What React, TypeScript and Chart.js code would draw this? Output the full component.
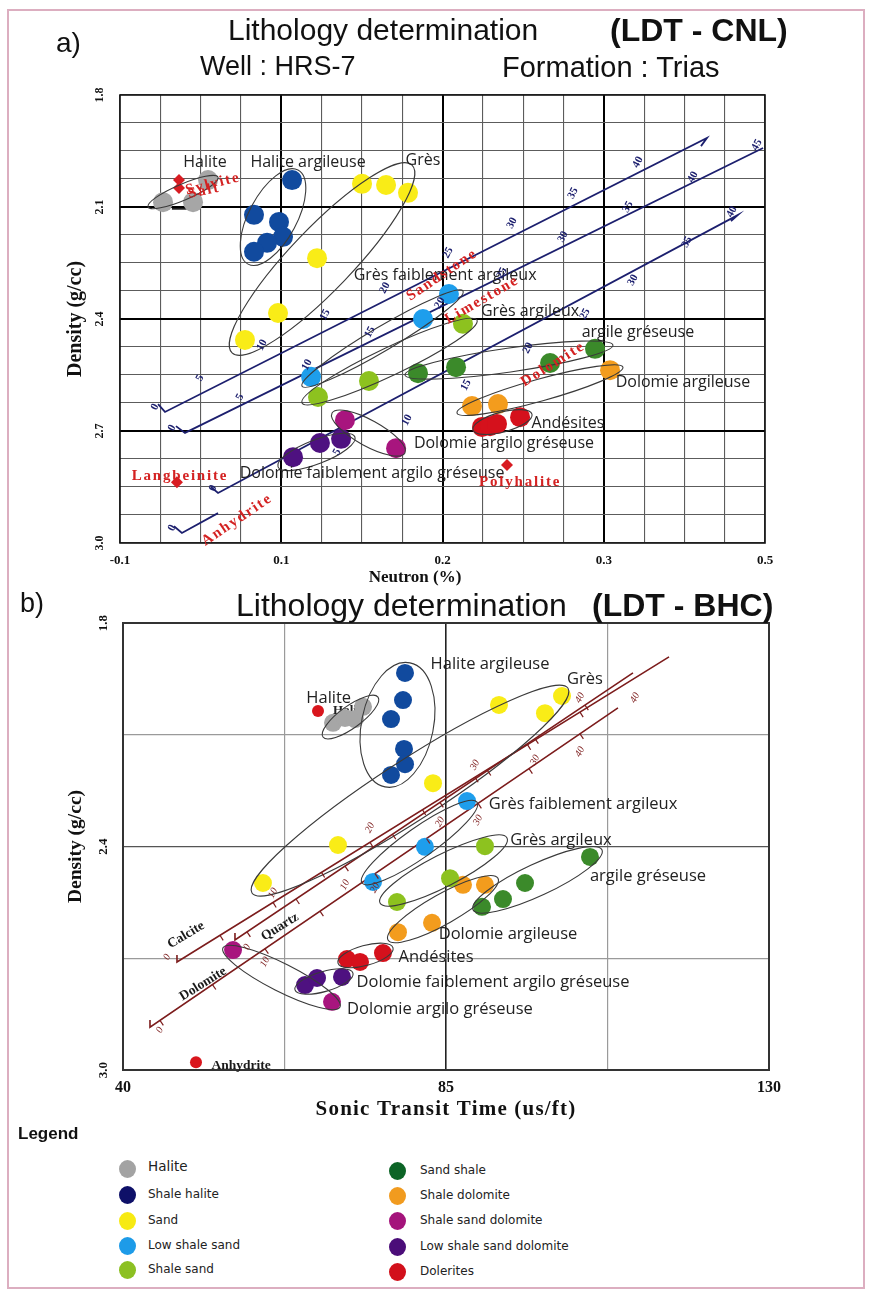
import React, { useEffect, useRef } from "react";
import { Chart, registerables } from "chart.js";
Chart.register(...registerables);

// ================= a) LDT - CNL  (x: neutron, y: density) =================
const cnlHalite = [[0.0267, 2.087], [0.0453, 2.087], [0.0546, 2.028]];
const cnlShaleHalite = [[0.1067, 2.028], [0.0831, 2.121], [0.0986, 2.140], [0.1011, 2.180], [0.0912, 2.196], [0.0831, 2.220]];
const cnlSand = [[0.1501, 2.038], [0.1650, 2.041], [0.1786, 2.062], [0.1222, 2.237], [0.0980, 2.384], [0.0775, 2.456]];
const cnlLowShaleSand = [[0.2040, 2.333], [0.1879, 2.400], [0.1185, 2.555]];
const cnlShaleSand = [[0.2127, 2.413], [0.1544, 2.566], [0.1228, 2.609]];
const cnlSandShale = [[0.1848, 2.545], [0.2084, 2.529], [0.2667, 2.518], [0.2946, 2.480]];
const cnlShaleDolomite = [[0.2183, 2.633], [0.2344, 2.628], [0.3039, 2.537]];
const cnlShaleSandDolomite = [[0.1395, 2.671], [0.1712, 2.746]];
const cnlLowShaleSandDolomite = [[0.1073, 2.770], [0.1240, 2.732], [0.1371, 2.721]];
const cnlDolerites = [[0.2245, 2.689], [0.2295, 2.687], [0.2338, 2.681], [0.2481, 2.663]];
const cnlMinerals = [[0.0366, 2.028], [0.0366, 2.049], [0.0353, 2.837], [0.2400, 2.791]];

const cnlSandstoneLine = [[0.0236, 2.628], [0.0279, 2.649], [0.3640, 1.915], [0.3603, 1.937]];
const cnlLimestoneLine = [[0.0347, 2.687], [0.0403, 2.705], [0.3988, 1.942]];
const cnlDolomiteLine = [[0.0564, 2.850], [0.0608, 2.866], [0.3833, 2.121], [0.3789, 2.138]];
const cnlAnhydriteLine = [[0.0335, 2.955], [0.0384, 2.973], [0.0608, 2.920]];
const cnlSaltLine = [[0.0322, 2.105], [0.0471, 2.105]];

const cnlSandstonePor = [[0.0217, 2.636, "0"], [0.0496, 2.558, "5"], [0.0881, 2.470, "10"], [0.1271, 2.389, "15"], [0.1643, 2.317, "20"], [0.2034, 2.223, "25"], [0.2431, 2.143, "30"], [0.2809, 2.063, "35"], [0.3212, 1.980, "40"]];
const cnlLimestonePor = [[0.0322, 2.692, "0"], [0.0744, 2.609, "5"], [0.1160, 2.523, "10"], [0.1550, 2.435, "15"], [0.1984, 2.357, "20"], [0.2369, 2.277, "25"], [0.2747, 2.180, "30"], [0.3150, 2.100, "35"], [0.3553, 2.020, "40"], [0.3950, 1.934, "45"]];
const cnlDolomitePor = [[0.0577, 2.853, "0"], [0.1346, 2.756, "5"], [0.1780, 2.671, "10"], [0.2146, 2.577, "15"], [0.2530, 2.478, "20"], [0.2884, 2.387, "25"], [0.3181, 2.296, "30"], [0.3516, 2.194, "35"], [0.3795, 2.113, "40"]];
const cnlAnhydritePor = [[0.0322, 2.960, "0"]];

const cnlEllipses = [
  [0.0174, 2.100, 0.0608, 2.020, 8],
  [0.0794, 2.253, 0.1104, 2.001, 24],
  [0.0695, 2.491, 0.1811, 1.988, 31],
  [0.1129, 2.580, 0.2127, 2.325, 12],
  [0.1129, 2.625, 0.2214, 2.403, 14],
  [0.1767, 2.550, 0.3057, 2.470, 12],
  [0.2090, 2.652, 0.3119, 2.529, 11],
  [0.2189, 2.697, 0.2555, 2.655, 10],
  [0.1315, 2.652, 0.1767, 2.759, 13],
  [0.0980, 2.796, 0.1457, 2.716, 12],
];
const cnlNames = [
  [0.0527, 1.980, "Halite"], [0.1166, 1.980, "Halite argileuse"], [0.1879, 1.974, "Grès"],
  [0.2016, 2.282, "Grès faiblement argileux"], [0.2543, 2.381, "Grès argileux"],
  [0.3212, 2.435, "argile gréseuse"], [0.3491, 2.571, "Dolomie argileuse"],
  [0.2778, 2.681, "Andésites"], [0.2381, 2.732, "Dolomie argilo gréseuse"],
  [0.1563, 2.813, "Dolomie faiblement argilo gréseuse"],
];
const cnlMineralNames = [
  [0.0577, 2.038, "Sylvite", -14], [0.0521, 2.057, "Salt", -12],
  [0.0372, 2.821, "Langbeinite", 0], [0.2481, 2.837, "Polyhalite", 0],
  [0.0726, 2.938, "Anhydrite", -34], [0.1997, 2.282, "Sandstone", -34],
  [0.2245, 2.349, "Limestone", -30], [0.2685, 2.521, "Dolomite", -32],
];
const cnlXTicks = [0, 0.1, 0.2, 0.3, 0.4];
const cnlXLabels = ["-0.1", "0.1", "0.2", "0.3", "0.5"];
const cnlYLabels = [1.8, 2.1, 2.4, 2.7, 3.0];

// ================= b) LDT - BHC  (x: sonic, y: density) =================
const bhcHalite = [[69.26, 2.068], [70.93, 2.055], [72.32, 2.058], [73.44, 2.025]];
const bhcShaleHalite = [[79.29, 1.934], [79.01, 2.007], [77.34, 2.058], [79.15, 2.138], [79.29, 2.179], [77.34, 2.208]];
const bhcSand = [[59.50, 2.498], [69.95, 2.396], [83.19, 2.230], [92.38, 2.020], [98.79, 2.042], [101.16, 1.996]];
const bhcLowShaleSand = [[87.93, 2.278], [82.07, 2.401], [74.83, 2.495]];
const bhcShaleSand = [[90.43, 2.399], [85.56, 2.485], [78.17, 2.549]];
const bhcSandShale = [[105.06, 2.428], [96.01, 2.498], [92.94, 2.541], [90.02, 2.562]];
const bhcShaleDolomite = [[87.37, 2.503], [90.43, 2.503], [83.05, 2.605], [78.31, 2.630]];
const bhcDolerites = [[71.21, 2.702], [73.02, 2.710], [76.22, 2.686]];
const bhcLowShaleSandDolomite = [[65.36, 2.772], [67.03, 2.753], [70.51, 2.750]];
const bhcShaleSandDolomite = [[55.33, 2.678], [69.12, 2.817]];
const bhcMinerals = [[67.17, 2.036], [50.17, 2.979]];

const bhcCalciteLine = [[47.52, 2.691], [47.52, 2.710], [116.07, 1.891]];
const bhcQuartzLine = [[55.60, 2.632], [55.60, 2.651], [111.05, 1.934]];
const bhcDolomiteLine = [[43.76, 2.866], [43.76, 2.885], [108.96, 2.028]];

const bhcCalcitePor = [[46.13, 2.697, "0"], [60.90, 2.525, "10"], [74.41, 2.350, "20"], [89.04, 2.181, "30"], [103.67, 2.001, "40"]];
const bhcQuartzPor = [[57.28, 2.670, "0"], [70.93, 2.503, "10"], [84.16, 2.334, "20"], [97.40, 2.168, "30"], [111.33, 2.001, "40"]];
const bhcDolomitePor = [[45.15, 2.893, "0"], [59.78, 2.710, "10"], [75.11, 2.511, "20"], [89.46, 2.329, "30"], [103.67, 2.146, "40"]];

const bhcEllipses = [
  [67.86, 2.106, 75.53, 1.999, 11],
  [76.50, 2.240, 79.98, 1.907, 36],
  [57.97, 2.525, 102.0, 1.975, 30],
  [73.30, 2.498, 89.32, 2.281, 15],
  [75.81, 2.552, 93.50, 2.377, 16],
  [76.92, 2.651, 92.24, 2.485, 15],
  [88.76, 2.570, 106.73, 2.409, 16],
  [69.95, 2.713, 77.62, 2.672, 10],
  [63.96, 2.785, 72.04, 2.740, 10],
  [53.93, 2.672, 70.23, 2.831, 14],
];
const bhcNames = [
  [68.66, 2.001, "Halite"], [91.13, 1.910, "Halite argileuse"], [104.37, 1.950, "Grès"],
  [104.09, 2.286, "Grès faiblement argileux"], [101.02, 2.383, "Grès argileux"],
  [113.14, 2.479, "argile gréseuse"], [93.64, 2.635, "Dolomie argileuse"],
  [83.61, 2.697, "Andésites"], [91.55, 2.764, "Dolomie faiblement argilo gréseuse"],
  [84.16, 2.836, "Dolomie argilo gréseuse"],
];
const bhcRefNames = [
  [48.78, 2.638, "Calcite", -31], [61.87, 2.616, "Quartz", -32],
  [51.15, 2.769, "Dolomite", -32], [56.44, 2.987, "Anhydrite", 0],
];
const bhcGhostNames = [[71.63, 2.036, "Halite", 0]];
const bhcXTicks = [40, 85, 130];
const bhcXLabels = ["40", "85", "130"];
const bhcYLabels = [1.8, 2.4, 3.0];

// ================= legend =================
const legendNames = ["Halite", "Shale halite", "Sand", "Low shale sand", "Shale sand", "Sand shale", "Shale dolomite", "Shale sand dolomite", "Low shale sand dolomite", "Dolerites"];
const legendColors = ["#a3a3a3", "#0e1068", "#f7ea12", "#1d9be8", "#8cc022", "#0c6426", "#f19b1f", "#a4137b", "#4b0d79", "#d2101b"];

const C = {
  halite: "#a6a6a6", shaleHalite: "#114a9e", sand: "#f9ec17", lowShaleSand: "#1e9eec",
  shaleSand: "#8dc21f", sandShale: "#3b8a2a", shaleDolomite: "#f39c1d",
  shaleSandDolomite: "#a8157e", lowShaleSandDolomite: "#4e1180", dolerites: "#d5111c",
};

const sc = (arr: any[]) => arr.map((p: any) => ({ x: p[0], y: p[1] }));
const pts = (label: string, data: any[], color: string, r: number, style: string = "circle") => ({
  label, data: sc(data), backgroundColor: color, borderColor: color, borderWidth: 0,
  pointRadius: r, pointHoverRadius: r, pointStyle: style, showLine: false, order: 1,
});
const line = (label: string, data: any[], color: string, w: number) => ({
  label, data: sc(data), borderColor: color, backgroundColor: color, borderWidth: w,
  pointRadius: 0, showLine: true, fill: false, tension: 0, order: 2,
});
const near = (list: number[], v: number) => list.findIndex((t) => Math.abs(t - v) < 1e-6);

function drawTexts(chart: any, g: any) {
  const { ctx } = chart;
  const xs = chart.scales.x, ys = chart.scales.y;
  ctx.save();
  ctx.font = g.font;
  ctx.fillStyle = g.color;
  ctx.textAlign = "center";
  ctx.textBaseline = "middle";
  (ctx as any).letterSpacing = g.spacing || "0px";
  for (const it of g.items) {
    const px = xs.getPixelForValue(it[0]);
    const py = ys.getPixelForValue(it[1]);
    const ang = (g.angle !== undefined ? g.angle : it[3] || 0) * Math.PI / 180;
    ctx.save();
    ctx.translate(px, py);
    ctx.rotate(ang);
    ctx.fillText(String(it[2]), 0, 0);
    ctx.restore();
  }
  ctx.restore();
}

function overlay(o: any) {
  return {
    id: "overlay",
    beforeDatasetsDraw(chart: any) {
      for (const g of o.under || []) drawTexts(chart, g);
    },
    afterDatasetsDraw(chart: any) {
      const { ctx, chartArea } = chart;
      const xs = chart.scales.x, ys = chart.scales.y;
      ctx.save();
      ctx.strokeStyle = o.ellipseColor;
      ctx.lineWidth = 1.1;
      for (const e of o.ellipses) {
        const x1 = xs.getPixelForValue(e[0]), y1 = ys.getPixelForValue(e[1]);
        const x2 = xs.getPixelForValue(e[2]), y2 = ys.getPixelForValue(e[3]);
        ctx.beginPath();
        ctx.ellipse((x1 + x2) / 2, (y1 + y2) / 2, Math.hypot(x2 - x1, y2 - y1) / 2, e[4], Math.atan2(y2 - y1, x2 - x1), 0, Math.PI * 2);
        ctx.stroke();
      }
      if (o.ticks) {
        ctx.strokeStyle = o.ticks.color;
        ctx.lineWidth = 1.2;
        for (const L of o.ticks.lines) {
          const a = L.line[1], b = L.line[L.line.length - 1];
          const ax = xs.getPixelForValue(a[0]), ay = ys.getPixelForValue(a[1]);
          const bx = xs.getPixelForValue(b[0]), by = ys.getPixelForValue(b[1]);
          const len = Math.hypot(bx - ax, by - ay);
          let nx = -(by - ay) / len, ny = (bx - ax) / len;
          if (ny < 0) { nx = -nx; ny = -ny; }
          const xsP = L.at.map((p: any) => xs.getPixelForValue(p[0]));
          const marks: number[] = [];
          for (let i = 0; i < xsP.length; i++) {
            marks.push(xsP[i]);
            if (i + 1 < xsP.length) marks.push((xsP[i] + xsP[i + 1]) / 2);
          }
          for (const mx of marks) {
            const t = (mx - ax) / (bx - ax);
            if (t < 0.02 || t > 1) continue;
            const my = ay + t * (by - ay);
            ctx.beginPath();
            ctx.moveTo(mx, my);
            ctx.lineTo(mx + nx * 6, my + ny * 6);
            ctx.stroke();
          }
        }
      }
      ctx.strokeStyle = o.frameColor;
      ctx.lineWidth = o.frameWidth;
      ctx.strokeRect(chartArea.left, chartArea.top, chartArea.right - chartArea.left, chartArea.bottom - chartArea.top);
      ctx.restore();
      for (const g of o.groups) drawTexts(chart, g);
    },
    afterDraw(chart: any) {
      const { ctx } = chart;
      const ys = chart.scales.y;
      ctx.save();
      ctx.fillStyle = "#111";
      ctx.textAlign = "center";
      ctx.textBaseline = "middle";
      ctx.font = o.yTickFont;
      for (const t of ys.ticks) {
        if (near(o.yLabels, t.value) < 0) continue;
        const py = ys.getPixelForValue(t.value);
        ctx.save();
        ctx.translate(o.yTickX, py);
        ctx.rotate(-Math.PI / 2);
        ctx.fillText(t.value.toFixed(1), 0, 0);
        ctx.restore();
      }
      ctx.font = o.xTitle.font;
      (ctx as any).letterSpacing = o.xTitle.spacing || "0px";
      ctx.fillText(o.xTitle.text, o.xTitle.x, o.xTitle.y);
      ctx.restore();
    },
  };
}

const serifB = (s: number) => ({ family: "'Liberation Serif', 'Times New Roman', serif", size: s, weight: "bold" as const });

function App() {
  const refA = useRef<HTMLCanvasElement>(null);
  const refB = useRef<HTMLCanvasElement>(null);

  useEffect(() => {
    const navy = "#1c1f6e";
    const boldA = (v: number) => [0.1, 0.2, 0.3].some((t) => Math.abs(t - v) < 1e-6);
    const boldAY = (v: number) => [2.1, 2.4, 2.7].some((t) => Math.abs(t - v) < 1e-6);

    const chartA = new Chart(refA.current as HTMLCanvasElement, {
      type: "scatter",
      data: {
        datasets: [
          pts("Halite", cnlHalite, C.halite, 10),
          pts("Shale halite", cnlShaleHalite, C.shaleHalite, 10),
          pts("Sand", cnlSand, C.sand, 10),
          pts("Low shale sand", cnlLowShaleSand, C.lowShaleSand, 10),
          pts("Shale sand", cnlShaleSand, C.shaleSand, 10),
          pts("Sand shale", cnlSandShale, C.sandShale, 10),
          pts("Shale dolomite", cnlShaleDolomite, C.shaleDolomite, 10),
          pts("Shale sand dolomite", cnlShaleSandDolomite, C.shaleSandDolomite, 10),
          pts("Low shale sand dolomite", cnlLowShaleSandDolomite, C.lowShaleSandDolomite, 10),
          pts("Dolerites", cnlDolerites, C.dolerites, 10),
          pts("Minerals", cnlMinerals, "#d81c22", 6, "rectRot"),
          line("Sandstone", cnlSandstoneLine, navy, 1.8),
          line("Limestone", cnlLimestoneLine, navy, 1.8),
          line("Dolomite", cnlDolomiteLine, navy, 1.8),
          line("Anhydrite", cnlAnhydriteLine, navy, 1.8),
          line("Salt", cnlSaltLine, "#111", 1.6),
        ] as any,
      },
      options: {
        animation: false,
        responsive: false,
        events: [],
        layout: { padding: { left: 0, right: 104, top: 95, bottom: 0 } },
        plugins: { legend: { display: false }, tooltip: { enabled: false } },
        scales: {
          x: {
            type: "linear", min: 0, max: 0.4,
            afterFit: (s: any) => { s.height = 57; },
            ticks: {
              stepSize: 0.025, autoSkip: false, maxRotation: 0, padding: 10, color: "#111", font: serifB(13),
              callback: (v: any) => { const i = near(cnlXTicks, Number(v)); return i >= 0 ? cnlXLabels[i] : ""; },
            },
            grid: {
              drawTicks: false,
              color: (c: any) => (boldA(c.tick.value) ? "#000" : "#5c5c5c"),
              lineWidth: (c: any) => (boldA(c.tick.value) ? 2 : 1.1),
            },
            border: { display: false },
          },
          y: {
            type: "linear", min: 1.8, max: 3.0, reverse: true,
            afterFit: (s: any) => { s.width = 120; },
            ticks: { stepSize: 0.075, display: false },
            grid: {
              drawTicks: false,
              color: (c: any) => (boldAY(c.tick.value) ? "#000" : "#5c5c5c"),
              lineWidth: (c: any) => (boldAY(c.tick.value) ? 2 : 1.1),
            },
            border: { display: false },
            title: { display: true, text: "Density (g/cc)", color: "#111", font: serifB(20), padding: { top: 64, bottom: 0 } },
          },
        },
      } as any,
      plugins: [
        overlay({
          ellipses: cnlEllipses, ellipseColor: "#3a3a3a",
          frameColor: "#111", frameWidth: 1.6,
          groups: [
            { items: cnlNames, font: "16px 'Open Sans', sans-serif", color: "#222" },
            { items: cnlMineralNames, font: "bold 15px 'Liberation Serif', serif", color: "#d42222", spacing: "1.8px" },
            { items: cnlSandstonePor, font: "bold 11px 'Liberation Serif', serif", color: navy, angle: -62 },
            { items: cnlLimestonePor, font: "bold 11px 'Liberation Serif', serif", color: navy, angle: -62 },
            { items: cnlDolomitePor, font: "bold 11px 'Liberation Serif', serif", color: navy, angle: -62 },
            { items: cnlAnhydritePor, font: "bold 11px 'Liberation Serif', serif", color: navy, angle: -62 },
          ],
          yLabels: cnlYLabels, yTickX: 100, yTickFont: "bold 12px 'Liberation Serif', serif",
          xTitle: { text: "Neutron (%)", x: 415, y: 578, font: "bold 17px 'Liberation Serif', serif" },
        }),
      ],
    });

    const dred = "#7c1c1c";
    const chartB = new Chart(refB.current as HTMLCanvasElement, {
      type: "scatter",
      data: {
        datasets: [
          pts("Halite", bhcHalite, C.halite, 9),
          pts("Shale halite", bhcShaleHalite, C.shaleHalite, 9),
          pts("Sand", bhcSand, C.sand, 9),
          pts("Low shale sand", bhcLowShaleSand, C.lowShaleSand, 9),
          pts("Shale sand", bhcShaleSand, C.shaleSand, 9),
          pts("Sand shale", bhcSandShale, C.sandShale, 9),
          pts("Shale dolomite", bhcShaleDolomite, C.shaleDolomite, 9),
          pts("Shale sand dolomite", bhcShaleSandDolomite, C.shaleSandDolomite, 9),
          pts("Low shale sand dolomite", bhcLowShaleSandDolomite, C.lowShaleSandDolomite, 9),
          pts("Dolerites", bhcDolerites, C.dolerites, 9),
          pts("Minerals", bhcMinerals, "#d9161d", 6),
          line("Calcite", bhcCalciteLine, dred, 1.6),
          line("Quartz", bhcQuartzLine, dred, 1.6),
          line("Dolomite", bhcDolomiteLine, dred, 1.6),
        ] as any,
      },
      options: {
        animation: false,
        responsive: false,
        events: [],
        layout: { padding: { left: 0, right: 100, top: 33, bottom: 0 } },
        plugins: { legend: { display: false }, tooltip: { enabled: false } },
        scales: {
          x: {
            type: "linear", min: 40, max: 130,
            afterFit: (s: any) => { s.height = 60; },
            ticks: {
              stepSize: 22.5, autoSkip: false, maxRotation: 0, padding: 8, color: "#111", font: serifB(16),
              callback: (v: any) => { const i = near(bhcXTicks, Number(v)); return i >= 0 ? bhcXLabels[i] : ""; },
            },
            grid: {
              drawTicks: false,
              color: (c: any) => (Math.abs(c.tick.value - 85) < 1e-6 ? "#222" : "#9a9a9a"),
              lineWidth: (c: any) => (Math.abs(c.tick.value - 85) < 1e-6 ? 1.6 : 1.2),
            },
            border: { display: false },
          },
          y: {
            type: "linear", min: 1.8, max: 3.0, reverse: true,
            afterFit: (s: any) => { s.width = 123; },
            ticks: { stepSize: 0.3, display: false },
            grid: {
              drawTicks: false,
              color: (c: any) => (Math.abs(c.tick.value - 2.4) < 1e-6 ? "#555" : "#9a9a9a"),
              lineWidth: 1.2,
            },
            border: { display: false },
            title: { display: true, text: "Density (g/cc)", color: "#111", font: serifB(19.5), padding: { top: 64, bottom: 0 } },
          },
        },
      } as any,
      plugins: [
        overlay({
          ellipses: bhcEllipses, ellipseColor: "#3a3a3a",
          frameColor: "#333", frameWidth: 2,
          under: [{ items: bhcGhostNames, font: "bold 13px 'Liberation Serif', serif", color: "#222" }],
          ticks: {
            color: dred,
            lines: [
              { line: bhcCalciteLine, at: bhcCalcitePor },
              { line: bhcQuartzLine, at: bhcQuartzPor },
              { line: bhcDolomiteLine, at: bhcDolomitePor },
            ],
          },
          groups: [
            { items: bhcNames, font: "16.5px 'Open Sans', sans-serif", color: "#222" },
            { items: bhcRefNames, font: "bold 13.5px 'Liberation Serif', serif", color: "#1a1a1a" },
            { items: bhcCalcitePor, font: "italic 10px 'Liberation Serif', serif", color: dred, angle: -62 },
            { items: bhcQuartzPor, font: "italic 10px 'Liberation Serif', serif", color: dred, angle: -62 },
            { items: bhcDolomitePor, font: "italic 10px 'Liberation Serif', serif", color: dred, angle: -62 },
          ],
          yLabels: bhcYLabels, yTickX: 104, yTickFont: "bold 13px 'Liberation Serif', serif",
          xTitle: { text: "Sonic Transit Time (us/ft)", x: 446, y: 520, font: "bold 21px 'Liberation Serif', serif", spacing: "1.2px" },
        }),
      ],
    });

    return () => { chartA.destroy(); chartB.destroy(); };
  }, []);

  const sans = "'Liberation Sans', Arial, sans-serif";
  const txt = (s: any): React.CSSProperties => ({ position: "absolute", whiteSpace: "nowrap", lineHeight: 1, fontFamily: sans, color: "#111", ...s });
  const leg = "'DejaVu Sans', Verdana, sans-serif";

  return (
    <div style={{ position: "absolute", left: 0, top: 0, width: 869, height: 1292, background: "#fff", overflow: "hidden" }}>
      <div style={{ position: "absolute", left: 7, top: 9, width: 858, height: 1280, border: "2px solid #dcaec0", boxSizing: "border-box" }} />
      <canvas ref={refA} width={869} height={600} style={{ position: "absolute", left: 0, top: 0 }} />
      <canvas ref={refB} width={869} height={540} style={{ position: "absolute", left: 0, top: 590 }} />

      <div style={txt({ left: 56, top: 29, fontSize: 28 })}>a)</div>
      <div style={txt({ left: 228, top: 15, fontSize: 30 })}>Lithology determination</div>
      <div style={txt({ left: 610, top: 14, fontSize: 32, fontWeight: "bold" })}>(LDT - CNL)</div>
      <div style={txt({ left: 200, top: 53, fontSize: 27 })}>Well : HRS-7</div>
      <div style={txt({ left: 502, top: 53, fontSize: 29 })}>Formation : Trias</div>

      <div style={txt({ left: 20, top: 590, fontSize: 27 })}>b)</div>
      <div style={txt({ left: 236, top: 589, fontSize: 32 })}>Lithology determination</div>
      <div style={txt({ left: 592, top: 589, fontSize: 32, fontWeight: "bold" })}>(LDT - BHC)</div>

      <div style={txt({ left: 18, top: 1125, fontSize: 17, fontWeight: "bold" })}>Legend</div>
      {legendNames.map((n, i) => {
        const col = i < 5 ? 0 : 1;
        const row = i % 5;
        const cx = col === 0 ? 127 : 397;
        const cy = [[1169, 1195, 1221, 1246, 1270], [1171, 1196, 1221, 1247, 1272]][col][row];
        return (
          <React.Fragment key={n}>
            <div style={{ position: "absolute", left: cx - 8, top: cy - 9, width: 17, height: 18, borderRadius: "50%", background: legendColors[i] }} />
            <div style={txt({ left: col === 0 ? 148 : 420, top: cy - (i === 0 ? 9 : 7), fontSize: i === 0 ? 13.5 : 12, fontFamily: leg, color: "#222" })}>{n}</div>
          </React.Fragment>
        );
      })}
    </div>
  );
}

export default App;
